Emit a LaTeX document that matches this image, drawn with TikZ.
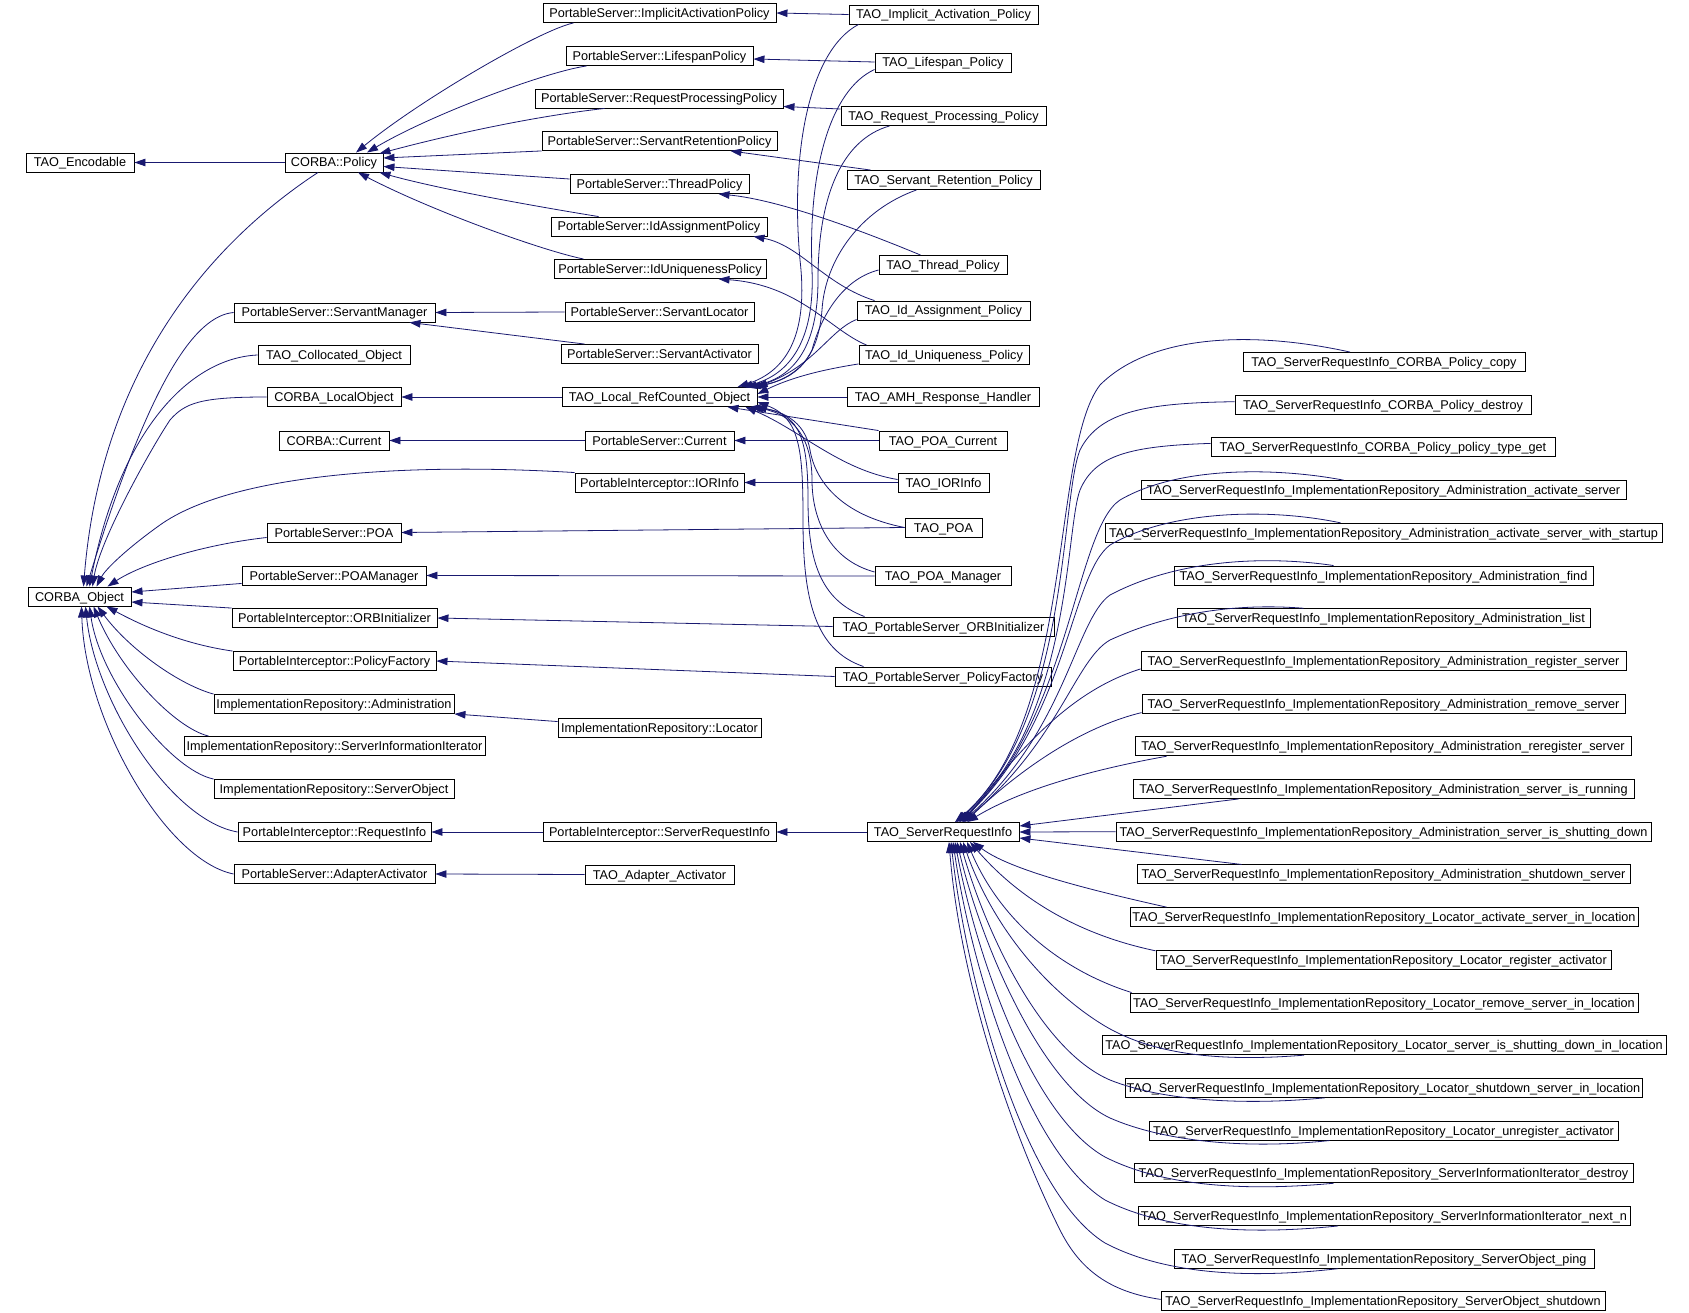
\documentclass[tikz,border=0pt]{standalone}
\usepackage{fontspec}
\setmainfont{Liberation Sans}
\usetikzlibrary{arrows.meta}
\definecolor{edgec}{RGB}{25,25,112}
\begin{document}
\begin{tikzpicture}[x=1pt,y=-1pt,
  box/.style={draw=black, line width=0.9pt, inner xsep=1pt, inner ysep=0pt, minimum height=19pt, text height=11pt, text depth=2pt, font=\fontsize{12.7}{14}\selectfont},
  ed/.style={draw=edgec, line width=0.8pt, -{Triangle[length=11pt,width=7.5pt]}}]
\fill[white] (0,0) rectangle (1689,1313);
\useasboundingbox (0,0) rectangle (1689,1313);
% rank 1
\node[box,minimum width=108pt] (enc) at (80,162.5) {TAO\_Encodable};
\node[box,minimum width=103pt] (obj) at (79.5,596.5) {CORBA\_Object};
% rank 2
\node[box,minimum width=98pt] (pol) at (334,162.5) {CORBA::Policy};
\node[box,minimum width=201pt] (smgr) at (334.5,312.5) {PortableServer::ServantManager};
\node[box,minimum width=152pt] (coll) at (334,355) {TAO\_Collocated\_Object};
\node[box,minimum width=134pt] (lobj) at (334,397) {CORBA\_LocalObject};
\node[box,minimum width=110pt] (ccur) at (334,440.5) {CORBA::Current};
\node[box,minimum width=134pt] (poa) at (334,532.5) {PortableServer::POA};
\node[box,minimum width=184pt] (poam) at (334,575.5) {PortableServer::POAManager};
\node[box,minimum width=205pt] (orbi) at (334.5,618) {PortableInterceptor::ORBInitializer};
\node[box,minimum width=203pt] (pfac) at (334.5,661) {PortableInterceptor::PolicyFactory};
\node[box,minimum width=240pt] (adm) at (334,704) {ImplementationRepository::Administration};
\node[box,minimum width=301pt] (sii) at (334.5,746) {ImplementationRepository::ServerInformationIterator};
\node[box,minimum width=240pt] (sobj) at (334,789) {ImplementationRepository::ServerObject};
\node[box,minimum width=193pt] (rinf) at (334.5,832) {PortableInterceptor::RequestInfo};
\node[box,minimum width=201pt] (aact) at (334.5,874) {PortableServer::AdapterActivator};
% rank 3
\node[box,minimum width=233pt] (iap) at (659.5,13) {PortableServer::ImplicitActivationPolicy};
\node[box,minimum width=187pt] (lsp) at (659.5,56) {PortableServer::LifespanPolicy};
\node[box,minimum width=248pt] (rpp) at (659,98.5) {PortableServer::RequestProcessingPolicy};
\node[box,minimum width=235pt] (srp) at (659.5,141) {PortableServer::ServantRetentionPolicy};
\node[box,minimum width=179pt] (thp) at (659.5,184) {PortableServer::ThreadPolicy};
\node[box,minimum width=216pt] (iasp) at (659,226.5) {PortableServer::IdAssignmentPolicy};
\node[box,minimum width=212pt] (iup) at (660,269) {PortableServer::IdUniquenessPolicy};
\node[box,minimum width=189pt] (sloc) at (659.5,312) {PortableServer::ServantLocator};
\node[box,minimum width=197pt] (sact) at (659.5,354) {PortableServer::ServantActivator};
\node[box,minimum width=195pt] (lrco) at (659.5,397) {TAO\_Local\_RefCounted\_Object};
\node[box,minimum width=149pt] (pcur) at (659.5,440.5) {PortableServer::Current};
\node[box,minimum width=169pt] (iori) at (659.5,482.5) {PortableInterceptor::IORInfo};
\node[box,minimum width=203pt] (loc) at (659.5,727.5) {ImplementationRepository::Locator};
\node[box,minimum width=233pt] (psri) at (659.5,832) {PortableInterceptor::ServerRequestInfo};
\node[box,minimum width=149pt] (taa) at (659.5,874.5) {TAO\_Adapter\_Activator};
% rank 4
\node[box,minimum width=189pt] (tiap) at (943.5,14.5) {TAO\_Implicit\_Activation\_Policy};
\node[box,minimum width=136pt] (tlsp) at (943,62.5) {TAO\_Lifespan\_Policy};
\node[box,minimum width=205pt] (trpp) at (943.5,116) {TAO\_Request\_Processing\_Policy};
\node[box,minimum width=193pt] (tsrp) at (943.5,180) {TAO\_Servant\_Retention\_Policy};
\node[box,minimum width=128pt] (tthp) at (943,265) {TAO\_Thread\_Policy};
\node[box,minimum width=173pt] (tiasp) at (943.5,310.5) {TAO\_Id\_Assignment\_Policy};
\node[box,minimum width=170pt] (tiup) at (944,355) {TAO\_Id\_Uniqueness\_Policy};
\node[box,minimum width=192pt] (amh) at (943,397) {TAO\_AMH\_Response\_Handler};
\node[box,minimum width=128pt] (tpcur) at (943,440.5) {TAO\_POA\_Current};
\node[box,minimum width=91pt] (tiori) at (943.5,482.5) {TAO\_IORInfo};
\node[box,minimum width=77pt] (tpoa) at (943.5,527.5) {TAO\_POA};
\node[box,minimum width=136pt] (tpoam) at (943,576) {TAO\_POA\_Manager};
\node[box,minimum width=221pt] (torbi) at (943.5,626.5) {TAO\_PortableServer\_ORBInitializer};
\node[box,minimum width=216pt] (tpfac) at (943,676.5) {TAO\_PortableServer\_PolicyFactory};
\node[box,minimum width=152pt] (tsri) at (943,832) {TAO\_ServerRequestInfo};
% rank 5
\node[box,minimum width=282pt] (r1) at (1384,362) {TAO\_ServerRequestInfo\_CORBA\_Policy\_copy};
\node[box,minimum width=296pt] (r2) at (1383,404.7) {TAO\_ServerRequestInfo\_CORBA\_Policy\_destroy};
\node[box,minimum width=344pt] (r3) at (1383,447.4) {TAO\_ServerRequestInfo\_CORBA\_Policy\_policy\_type\_get};
\node[box,minimum width=485pt] (r4) at (1383.5,490.1) {TAO\_ServerRequestInfo\_ImplementationRepository\_Administration\_activate\_server};
\node[box,minimum width=557pt] (r5) at (1383.5,532.8) {TAO\_ServerRequestInfo\_ImplementationRepository\_Administration\_activate\_server\_with\_startup};
\node[box,minimum width=419pt] (r6) at (1383.5,575.5) {TAO\_ServerRequestInfo\_ImplementationRepository\_Administration\_find};
\node[box,minimum width=413pt] (r7) at (1383.5,618.2) {TAO\_ServerRequestInfo\_ImplementationRepository\_Administration\_list};
\node[box,minimum width=485pt] (r8) at (1383.5,660.9) {TAO\_ServerRequestInfo\_ImplementationRepository\_Administration\_register\_server};
\node[box,minimum width=483pt] (r9) at (1383.5,703.6) {TAO\_ServerRequestInfo\_ImplementationRepository\_Administration\_remove\_server};
\node[box,minimum width=496pt] (r10) at (1383,746.3) {TAO\_ServerRequestInfo\_ImplementationRepository\_Administration\_reregister\_server};
\node[box,minimum width=501pt] (r11) at (1383.5,789) {TAO\_ServerRequestInfo\_ImplementationRepository\_Administration\_server\_is\_running};
\node[box,minimum width=535pt] (r12) at (1383.5,831.7) {TAO\_ServerRequestInfo\_ImplementationRepository\_Administration\_server\_is\_shutting\_down};
\node[box,minimum width=493pt] (r13) at (1383.5,874.4) {TAO\_ServerRequestInfo\_ImplementationRepository\_Administration\_shutdown\_server};
\node[box,minimum width=508pt] (r14) at (1384,917.1) {TAO\_ServerRequestInfo\_ImplementationRepository\_Locator\_activate\_server\_in\_location};
\node[box,minimum width=455pt] (r15) at (1383.5,959.8) {TAO\_ServerRequestInfo\_ImplementationRepository\_Locator\_register\_activator};
\node[box,minimum width=508pt] (r16) at (1384,1002.5) {TAO\_ServerRequestInfo\_ImplementationRepository\_Locator\_remove\_server\_in\_location};
\node[box,minimum width=564pt] (r17) at (1384,1045.2) {TAO\_ServerRequestInfo\_ImplementationRepository\_Locator\_server\_is\_shutting\_down\_in\_location};
\node[box,minimum width=517pt] (r18) at (1383.5,1087.9) {TAO\_ServerRequestInfo\_ImplementationRepository\_Locator\_shutdown\_server\_in\_location};
\node[box,minimum width=469pt] (r19) at (1383.5,1130.6) {TAO\_ServerRequestInfo\_ImplementationRepository\_Locator\_unregister\_activator};
\node[box,minimum width=499pt] (r20) at (1383.5,1173.3) {TAO\_ServerRequestInfo\_ImplementationRepository\_ServerInformationIterator\_destroy};
\node[box,minimum width=492pt] (r21) at (1384,1216) {TAO\_ServerRequestInfo\_ImplementationRepository\_ServerInformationIterator\_next\_n};
\node[box,minimum width=420pt] (r22) at (1384,1258.7) {TAO\_ServerRequestInfo\_ImplementationRepository\_ServerObject\_ping};
\node[box,minimum width=444pt] (r23) at (1383,1301.4) {TAO\_ServerRequestInfo\_ImplementationRepository\_ServerObject\_shutdown};

% ---- edges: rank2 -> rank1
\draw[ed] (pol.west) -- (enc.east);
\draw[ed] ([xshift=-16pt]pol.south) .. controls (200,250) and (100,380) .. ([xshift=4pt]obj.north);
\draw[ed] (smgr.west) .. controls (195,316) and (150,380) .. ([xshift=7pt]obj.north);
\draw[ed] (coll.west) .. controls (190,358) and (120,430) .. ([xshift=10pt]obj.north);
\draw[ed] (lobj.west) .. controls (200,397) and (185,403) .. (170,420) .. controls (150,450) and (100,540) .. ([xshift=13pt]obj.north);
\draw[ed] (iori.north west) .. controls (400,462) and (230,475) .. (160,525) .. controls (125,550) and (105,570) .. ([xshift=17pt]obj.north);
\draw[ed] ([yshift=-5pt]poa.west) .. controls (200,545) and (140,565) .. ([xshift=28pt]obj.north);
\draw[ed] ([yshift=2pt]poam.south west) -- ([yshift=4.5pt]obj.east);
\draw[ed] (orbi.north west) -- ([yshift=-5.5pt]obj.east);
\draw[ed] (pfac.north west) .. controls (190,645) and (150,630) .. ([xshift=27pt]obj.south);
\draw[ed] (adm.north west) .. controls (180,685) and (130,650) .. ([xshift=18pt]obj.south);
\draw[ed] ([xshift=25pt]sii.north west) .. controls (175,728) and (120,670) .. ([xshift=14pt]obj.south);
\draw[ed] (sobj.north west) .. controls (170,770) and (100,680) .. ([xshift=10pt]obj.south);
\draw[ed] (rinf.west) .. controls (170,820) and (95,700) .. ([xshift=6pt]obj.south);
\draw[ed] (aact.west) .. controls (165,860) and (85,720) .. ([xshift=2pt]obj.south);
% ---- rank3 -> rank2
\draw[ed] ([xshift=31pt]iap.south west) .. controls (540,30) and (420,100) .. ([xshift=22pt]pol.north);
\draw[ed] ([xshift=21pt]lsp.south west) .. controls (545,72) and (430,115) .. ([xshift=33pt]pol.north);
\draw[ed] ([xshift=70pt]rpp.south west) .. controls (520,118) and (430,140) .. ([xshift=-4pt,yshift=-1pt]pol.north east);
\draw[ed] (srp.south west) -- ([yshift=4.5pt]pol.east);
\draw[ed] ([yshift=5pt]thp.west) -- ([yshift=-4pt]pol.east);
\draw[ed] ([xshift=48pt]iasp.north west) .. controls (570,212) and (450,192) .. ([xshift=-4pt]pol.south east);
\draw[ed] ([xshift=30pt]iup.north west) .. controls (540,250) and (430,210) .. ([xshift=24pt]pol.south);
\draw[ed] (sloc.west) -- (smgr.east);
\draw[ed] ([xshift=24pt]sact.north west) -- ([xshift=-26pt]smgr.south east);
\draw[ed] (lrco.west) -- (lobj.east);
\draw[ed] (pcur.west) -- (ccur.east);
\draw[ed] ([yshift=-4pt]loc.north west) -- (adm.south east);
\draw[ed] (psri.west) -- (rinf.east);
\draw[ed] (taa.west) -- (aact.east);
% ---- rank4 -> rank3
\draw[ed] (tiap.west) -- ([yshift=0pt]iap.east);
\draw[ed] ([yshift=0.5pt]tlsp.west) -- ([yshift=-3pt]lsp.east);
\draw[ed] ([yshift=7pt]trpp.west) -- ([yshift=-8pt]rpp.east);
\draw[ed] ([xshift=24pt]tsrp.north west) -- ([xshift=-47pt]srp.south east);
\draw[ed] ([xshift=42pt]tthp.north west) .. controls (860,230) and (780,200) .. ([xshift=-31pt]thp.south east);
\draw[ed] ([xshift=18pt]tiasp.north west) .. controls (825,285) and (800,245) .. ([xshift=-14pt]iasp.south east);
\draw[ed] ([xshift=8pt]tiup.north west) .. controls (830,330) and (800,285) .. ([xshift=-48pt]iup.south east);
\draw[ed] ([xshift=10pt]tiap.south west) .. controls (810,50) and (790,150) .. (800,260) .. controls (808,330) and (790,370) .. ([xshift=78pt]lrco.north);
\draw[ed] ([yshift=-7pt]tlsp.west) .. controls (830,90) and (808,170) .. (812,270) .. controls (815,340) and (790,375) .. ([xshift=82pt]lrco.north);
\draw[ed] ([xshift=49pt]trpp.south west) .. controls (840,140) and (818,200) .. (818,280) .. controls (818,345) and (795,378) .. ([xshift=86pt]lrco.north);
\draw[ed] ([xshift=70pt]tsrp.south west) .. controls (860,210) and (825,260) .. (822,310) .. controls (818,360) and (795,380) .. ([xshift=90pt]lrco.north);
\draw[ed] ([yshift=-5pt]tthp.west) .. controls (840,280) and (820,320) .. (812,350) .. controls (800,375) and (775,383) .. ([xshift=93pt]lrco.north);
\draw[ed] ([yshift=1pt]tiasp.south west) .. controls (830,330) and (815,365) .. ([xshift=-1pt]lrco.north east);
\draw[ed] ([yshift=1pt]tiup.south west) .. controls (820,370) and (790,378) .. ([yshift=3pt]lrco.east);
\draw[ed] (amh.west) -- (lrco.east);
\draw[ed] (tpcur.north west) -- ([xshift=-30pt]lrco.south east);
\draw[ed] (tpcur.west) -- (pcur.east);
\draw[ed] ([yshift=3pt]tiori.west) .. controls (840,470) and (800,430) .. ([xshift=-12pt]lrco.south east);
\draw[ed] (tiori.west) -- (iori.east);
\draw[ed] (tpoa.west) .. controls (840,515) and (815,480) .. (810,450) .. controls (805,420) and (780,410) .. ([xshift=-8pt]lrco.south east);
\draw[ed] (tpoa.west) -- (poa.east);
\draw[ed] ([yshift=4pt]tpoam.west) .. controls (830,560) and (812,520) .. (812,480) .. controls (812,440) and (795,415) .. ([xshift=-5pt]lrco.south east);
\draw[ed] (tpoam.west) -- (poam.east);
\draw[ed] ([xshift=32pt]torbi.north west) .. controls (820,600) and (808,560) .. (808,500) .. controls (808,440) and (800,415) .. ([xshift=-2pt]lrco.south east);
\draw[ed] (torbi.west) -- (orbi.east);
\draw[ed] ([xshift=29pt]tpfac.north west) .. controls (815,650) and (803,600) .. (803,520) .. controls (803,450) and (800,418) .. ([yshift=-5pt]lrco.east);
\draw[ed] (tpfac.west) -- (pfac.east);
\draw[ed] (tsri.west) -- (psri.east);
% ---- rank5 -> TAO_ServerRequestInfo
\draw[ed] ([xshift=-34pt]r1.north) .. controls (1250,330) and (1150,335) .. (1100,385) .. controls (1050,450) and (1075,720) .. ([xshift=12pt]tsri.north);
\draw[ed] ([yshift=3pt]r2.west) .. controls (1150,403) and (1100,410) .. (1080,450) .. controls (1060,500) and (1070,720) .. ([xshift=13pt]tsri.north);
\draw[ed] ([yshift=4pt]r3.west) .. controls (1130,446) and (1095,455) .. (1080,490) .. controls (1065,530) and (1072,720) .. ([xshift=14pt]tsri.north);
\draw[ed] ([xshift=-40pt]r4.north) .. controls (1280,468) and (1180,465) .. (1120,500) .. controls (1075,530) and (1070,720) .. ([xshift=16pt]tsri.north);
\draw[ed] ([xshift=-43pt]r5.north) .. controls (1270,508) and (1170,510) .. (1110,545) .. controls (1070,575) and (1068,720) .. ([xshift=17pt]tsri.north);
\draw[ed] ([xshift=-50pt]r6.north) .. controls (1270,556) and (1180,558) .. (1110,595) .. controls (1075,620) and (1066,730) .. ([xshift=19pt]tsri.north);
\draw[ed] ([xshift=-80pt]r7.north) .. controls (1250,604) and (1180,608) .. (1110,640) .. controls (1075,660) and (1060,740) .. ([xshift=20pt]tsri.north);
\draw[ed] ([yshift=-8pt]r8.west) .. controls (1090,685) and (1040,720) .. ([xshift=21pt]tsri.north);
\draw[ed] ([yshift=-9pt]r9.west) .. controls (1090,725) and (1030,760) .. ([xshift=22pt]tsri.north);
\draw[ed] ([xshift=32pt]r10.south west) .. controls (1090,770) and (1020,790) .. ([xshift=24pt]tsri.north);
\draw[ed] ([xshift=106pt]r11.south west) -- ([yshift=6pt]tsri.east);
\draw[ed] (r12.west) -- (tsri.east);
\draw[ed] ([xshift=105pt]r13.north west) -- ([yshift=-6pt]tsri.east);
\draw[ed] ([xshift=37pt]r14.north west) .. controls (1090,890) and (1010,870) .. ([xshift=30pt]tsri.south);
\draw[ed] ([yshift=9pt]r15.west) .. controls (1080,935) and (1020,900) .. ([xshift=27pt]tsri.south);
\draw[ed] ([xshift=2pt]r16.north west) .. controls (1060,970) and (1000,920) .. ([xshift=24pt]tsri.south);
\draw[ed] ([xshift=-80pt]r17.south) .. controls (1220,1062) and (1150,1055) .. (1100,1023) .. controls (1040,985) and (990,920) .. ([xshift=20pt]tsri.south);
\draw[ed] ([xshift=-59pt]r18.south) .. controls (1240,1106) and (1160,1100) .. (1110,1080) .. controls (1040,1050) and (985,930) .. ([xshift=17pt]tsri.south);
\draw[ed] ([xshift=-54pt]r19.south) .. controls (1240,1150) and (1160,1140) .. (1110,1118) .. controls (1040,1085) and (980,940) .. ([xshift=14pt]tsri.south);
\draw[ed] ([xshift=-50pt]r20.south) .. controls (1240,1192) and (1160,1185) .. (1105,1157) .. controls (1030,1115) and (975,950) .. ([xshift=12pt]tsri.south);
\draw[ed] ([xshift=-46pt]r21.south) .. controls (1240,1236) and (1160,1228) .. (1105,1200) .. controls (1025,1150) and (970,960) .. ([xshift=10pt]tsri.south);
\draw[ed] ([xshift=-46pt]r22.south) .. controls (1240,1280) and (1160,1272) .. (1105,1243) .. controls (1020,1190) and (965,970) .. ([xshift=8pt]tsri.south);
\draw[ed] ([yshift=2pt]r23.west) .. controls (1110,1292) and (1080,1270) .. (1060,1230) .. controls (1010,1130) and (960,980) .. ([xshift=6pt]tsri.south);
\end{tikzpicture}
\end{document}
